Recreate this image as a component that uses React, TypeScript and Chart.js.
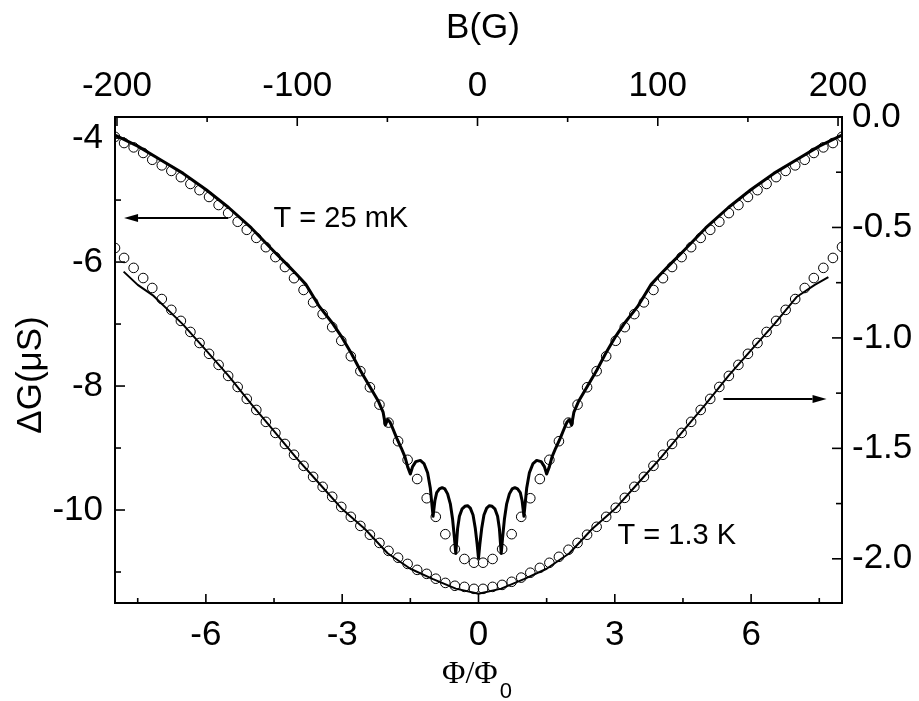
import React, { useEffect, useRef } from "react";
import { Chart, registerables } from "chart.js";

Chart.register(...registerables);

// Flux values (Φ/Φ0) of the open-circle data points
const phiCircles = [
  -8.0, -7.8, -7.59, -7.38, -7.18, -6.97, -6.76, -6.55, -6.34, -6.14, -5.93, -5.72, -5.51, -5.3, -5.1,
  -4.89, -4.68, -4.47, -4.26, -4.06, -3.85, -3.64, -3.43, -3.22, -3.02, -2.81, -2.6, -2.39, -2.18, -1.98,
  -1.77, -1.56, -1.35, -1.14, -0.94, -0.73, -0.52, -0.31, -0.1,
  0.1, 0.31, 0.52, 0.73, 0.94, 1.14, 1.35, 1.56, 1.77, 1.98, 2.18, 2.39, 2.6, 2.81, 3.02, 3.22, 3.43,
  3.64, 3.85, 4.06, 4.26, 4.47, 4.68, 4.89, 5.1, 5.3, 5.51, 5.72, 5.93, 6.14, 6.34, 6.55, 6.76, 6.97,
  7.18, 7.38, 7.59, 7.8, 8.0,
];

// T = 25 mK circles (left axis, ΔG in μS)
const upperCircleG = [
  -3.98, -4.08, -4.15, -4.24, -4.35, -4.44, -4.53, -4.63, -4.74, -4.84, -4.95, -5.08, -5.21, -5.35, -5.48,
  -5.61, -5.76, -5.92, -6.08, -6.26, -6.45, -6.65, -6.84, -7.05, -7.27, -7.52, -7.76, -8.02, -8.3, -8.59,
  -8.89, -9.19, -9.5, -9.81, -10.11, -10.39, -10.63, -10.79, -10.85,
  -10.85, -10.79, -10.63, -10.39, -10.11, -9.81, -9.5, -9.19, -8.89, -8.59, -8.3, -8.02, -7.76, -7.52,
  -7.27, -7.05, -6.84, -6.65, -6.45, -6.26, -6.08, -5.92, -5.76, -5.61, -5.48, -5.35, -5.21, -5.08,
  -4.95, -4.84, -4.74, -4.63, -4.53, -4.44, -4.35, -4.24, -4.15, -4.08, -3.98,
];

// T = 1.3 K circles (right axis)
const lowerCircleG = [
  -0.593, -0.638, -0.683, -0.729, -0.774, -0.824, -0.873, -0.923, -0.973, -1.023, -1.072, -1.122, -1.172,
  -1.222, -1.276, -1.326, -1.38, -1.43, -1.48, -1.529, -1.579, -1.629, -1.674, -1.719, -1.765, -1.81,
  -1.851, -1.891, -1.928, -1.964, -1.995, -2.023, -2.05, -2.068, -2.09, -2.109, -2.122, -2.127, -2.136,
  -2.136, -2.127, -2.118, -2.104, -2.085, -2.063, -2.041, -2.018, -1.991, -1.959, -1.928, -1.891, -1.855,
  -1.81, -1.769, -1.724, -1.674, -1.629, -1.579, -1.529, -1.48, -1.43, -1.38, -1.326, -1.276, -1.222,
  -1.172, -1.122, -1.072, -1.023, -0.973, -0.923, -0.873, -0.824, -0.774, -0.729, -0.683, -0.638, -0.588,
];

// T = 25 mK solid curve (left axis)
const upperLinePhi = [
  -8.0, -7.5, -7.0, -6.5, -6.0, -5.5, -5.0, -4.5, -4.2, -4.0, -3.8, -3.5, -3.2, -3.0, -2.8, -2.6, -2.4,
  -2.2, -2.1, -2.05, -2.0, -1.95, -1.9, -1.8, -1.7, -1.62, -1.56, -1.5, -1.45, -1.38, -1.28, -1.2, -1.12,
  -1.06, -1.0, -0.96, -0.92, -0.86, -0.8, -0.74, -0.68, -0.62, -0.57, -0.53, -0.5, -0.46, -0.42, -0.36,
  -0.3, -0.24, -0.18, -0.12, -0.07, -0.03, 0.0,
  0.03, 0.07, 0.12, 0.18, 0.24, 0.3, 0.36, 0.42, 0.46, 0.5, 0.53, 0.57, 0.62, 0.68, 0.74, 0.8, 0.86,
  0.92, 0.96, 1.0, 1.06, 1.12, 1.2, 1.28, 1.38, 1.45, 1.5, 1.56, 1.62, 1.7, 1.8, 1.9, 1.95, 2.0, 2.05,
  2.1, 2.2, 2.4, 2.6, 2.8, 3.0, 3.2, 3.5, 3.8, 4.0, 4.2, 4.5, 5.0, 5.5, 6.0, 6.5, 7.0, 7.5, 8.0,
];
const upperLineG = [
  -3.95, -4.13, -4.35, -4.57, -4.83, -5.12, -5.45, -5.83, -6.05, -6.2, -6.36, -6.72, -7.0, -7.22, -7.47,
  -7.75, -8.0, -8.25, -8.42, -8.63, -8.54, -8.58, -8.66, -8.84, -9.0, -9.14, -9.3, -9.42, -9.3, -9.22,
  -9.2, -9.25, -9.4, -9.65, -10.1, -9.85, -9.72, -9.66, -9.64, -9.66, -9.74, -9.9, -10.15, -10.45, -10.7,
  -10.3, -10.1, -9.98, -9.94, -9.93, -9.97, -10.08, -10.3, -10.55, -10.78,
  -10.55, -10.3, -10.08, -9.97, -9.93, -9.94, -9.98, -10.1, -10.3, -10.7, -10.45, -10.15, -9.9, -9.74,
  -9.66, -9.64, -9.66, -9.72, -9.85, -10.1, -9.65, -9.4, -9.25, -9.2, -9.22, -9.3, -9.42, -9.3, -9.14,
  -9.0, -8.84, -8.66, -8.58, -8.54, -8.63, -8.42, -8.25, -8.0, -7.75, -7.47, -7.22, -7.0, -6.72, -6.36,
  -6.2, -6.05, -5.83, -5.45, -5.12, -4.83, -4.57, -4.35, -4.13, -3.95,
];

// T = 1.3 K solid curve (right axis)
const lowerLinePhi = [
  -7.81, -7.5, -7.15, -6.8, -6.5, -6.0, -5.5, -5.0, -4.5, -4.0, -3.5, -3.0, -2.5, -2.0, -1.5, -1.0, -0.5,
  0.0, 0.5, 1.0, 1.5, 2.0, 2.5, 3.0, 3.5, 4.0, 4.5, 5.0, 5.5, 6.0, 6.5, 7.0, 7.4, 7.7,
];
const lowerLineG = [
  -0.7, -0.76, -0.81, -0.88, -0.94, -1.055, -1.172, -1.3, -1.422, -1.545, -1.66, -1.775, -1.865, -1.975,
  -2.045, -2.092, -2.135, -2.158, -2.135, -2.092, -2.045, -1.975, -1.865, -1.775, -1.66, -1.545, -1.422,
  -1.3, -1.172, -1.055, -0.94, -0.815, -0.76, -0.725,
];

// axis ticks
const phiTicks = [-6, -3, 0, 3, 6];
const phiMinor = [-7.5, -4.5, -1.5, 1.5, 4.5, 7.5];
const bTicks = [-200, -100, 0, 100, 200];
const bMinor = [-150, -50, 50, 150];
const gLeftTicks = [-10, -8, -6, -4];
const gLeftMinor = [-11, -9, -7, -5];
const gRightTicks = [0, -0.5, -1, -1.5, -2];
const gRightMinor = [-0.25, -0.75, -1.25, -1.75];

const SANS = '"Liberation Sans", Arial, Helvetica, sans-serif';
const SERIF = '"Liberation Serif", "Times New Roman", serif';
const TICK_FONT = { family: SANS, size: 35 };

const zip = (xs: number[], ys: number[]) => xs.map((x, i) => ({ x, y: ys[i] }));

const decorations = {
  id: "decorations",
  afterDraw(chart: any) {
    const ctx: CanvasRenderingContext2D = chart.ctx;
    const { x, x2, y, y2 } = chart.scales;
    const a = chart.chartArea;
    ctx.save();
    ctx.strokeStyle = "#000";
    ctx.fillStyle = "#000";
    ctx.lineWidth = 1.6;
    const line = (x1: number, y1: number, xb: number, yb: number) => {
      ctx.beginPath();
      ctx.moveTo(x1, y1);
      ctx.lineTo(xb, yb);
      ctx.stroke();
    };
    phiTicks.forEach((v) => line(x.getPixelForValue(v), a.bottom, x.getPixelForValue(v), a.bottom - 9));
    phiMinor.forEach((v) => line(x.getPixelForValue(v), a.bottom, x.getPixelForValue(v), a.bottom - 5));
    bTicks.forEach((v) => line(x2.getPixelForValue(v), a.top, x2.getPixelForValue(v), a.top + 9));
    bMinor.forEach((v) => line(x2.getPixelForValue(v), a.top, x2.getPixelForValue(v), a.top + 5));
    gLeftTicks.forEach((v) => line(a.left, y.getPixelForValue(v), a.left + 10, y.getPixelForValue(v)));
    gLeftMinor.forEach((v) => line(a.left, y.getPixelForValue(v), a.left + 6, y.getPixelForValue(v)));
    gRightTicks.forEach((v) => line(a.right, y2.getPixelForValue(v), a.right - 10, y2.getPixelForValue(v)));
    gRightMinor.forEach((v) => line(a.right, y2.getPixelForValue(v), a.right - 6, y2.getPixelForValue(v)));

    // arrows
    const arrow = (xa: number, ya: number, xt: number, yt: number) => {
      const dir = Math.sign(xt - xa);
      const head = 14;
      ctx.lineWidth = 2;
      line(xa, ya, xt - dir * head, yt);
      ctx.beginPath();
      ctx.moveTo(xt, yt);
      ctx.lineTo(xt - dir * head, yt - 4);
      ctx.lineTo(xt - dir * head, yt + 4);
      ctx.closePath();
      ctx.fill();
    };
    arrow(x.getPixelForValue(-5.51), y.getPixelForValue(-5.29), x.getPixelForValue(-7.8), y.getPixelForValue(-5.29));
    arrow(x.getPixelForValue(5.39), y2.getPixelForValue(-1.276), x.getPixelForValue(7.66), y2.getPixelForValue(-1.276));

    // annotation texts
    ctx.font = `29px ${SANS}`;
    ctx.textAlign = "left";
    ctx.textBaseline = "middle";
    ctx.fillText("T = 25 mK", x.getPixelForValue(-4.51), y.getPixelForValue(-5.31));
    ctx.fillText("T = 1.3 K", x.getPixelForValue(3.06), y2.getPixelForValue(-1.896));

    // axis titles
    ctx.font = `35px ${SANS}`;
    ctx.textAlign = "center";
    ctx.fillText("B(G)", 483, 28);
    ctx.save();
    ctx.translate(31, 375);
    ctx.rotate(-Math.PI / 2);
    ctx.fillText("ΔG(μS)", 0, 0);
    ctx.restore();

    ctx.textAlign = "left";
    ctx.textBaseline = "alphabetic";
    ctx.font = `32px ${SERIF}`;
    const main = "Φ/Φ";
    const w = ctx.measureText(main).width;
    const x0 = 442;
    ctx.fillText(main, x0, 683);
    ctx.font = `22px ${SANS}`;
    ctx.fillText("0", x0 + w + 2, 698);
    ctx.restore();
  },
};

const axisCommon = {
  type: "linear" as const,
  grid: { display: true, drawOnChartArea: false, drawTicks: false },
  border: { display: true, color: "#000", width: 2 },
};

export default function App() {
  const ref = useRef<HTMLCanvasElement | null>(null);
  useEffect(() => {
    if (!ref.current) return;
    const chart = new Chart(ref.current, {
      type: "scatter",
      data: {
        datasets: [
          {
            data: zip(upperLinePhi, upperLineG),
            xAxisID: "x",
            yAxisID: "y",
            showLine: true,
            borderColor: "#000",
            borderWidth: 3,
            pointRadius: 0,
            tension: 0,
            borderJoinStyle: "round",
          },
          {
            data: zip(lowerLinePhi, lowerLineG),
            xAxisID: "x",
            yAxisID: "y2",
            showLine: true,
            borderColor: "#000",
            borderWidth: 2,
            pointRadius: 0,
            tension: 0,
            borderJoinStyle: "round",
          },
          {
            data: zip(phiCircles, upperCircleG),
            xAxisID: "x",
            yAxisID: "y",
            showLine: false,
            pointRadius: 4.8,
            pointBorderWidth: 1,
            pointBorderColor: "#000",
            pointBackgroundColor: "rgba(255,255,255,0)",
          },
          {
            data: zip(phiCircles, lowerCircleG),
            xAxisID: "x",
            yAxisID: "y2",
            showLine: false,
            pointRadius: 4.8,
            pointBorderWidth: 1,
            pointBorderColor: "#000",
            pointBackgroundColor: "rgba(255,255,255,0)",
          },
        ] as any,
      },
      options: {
        responsive: false,
        animation: false,
        devicePixelRatio: 1,
        events: [],
        layout: { padding: 0 },
        plugins: { legend: { display: false }, tooltip: { enabled: false } },
        scales: {
          x: {
            ...axisCommon,
            position: "bottom",
            min: -8,
            max: 8,
            afterFit: (s: any) => { s.height = 98; },
            afterBuildTicks: (s: any) => { s.ticks = phiTicks.map((v) => ({ value: v })); },
            ticks: { font: TICK_FONT, color: "#000", padding: 11, autoSkip: false, maxRotation: 0, callback: (v: any) => String(v) },
          },
          x2: {
            ...axisCommon,
            position: "top",
            min: -201.1,
            max: 202.2,
            afterFit: (s: any) => { s.height = 117; },
            afterBuildTicks: (s: any) => { s.ticks = bTicks.map((v) => ({ value: v })); },
            ticks: { font: TICK_FONT, color: "#000", padding: 10, autoSkip: false, maxRotation: 0, callback: (v: any) => String(v) },
          },
          y: {
            ...axisCommon,
            position: "left",
            min: -11.5,
            max: -3.66,
            afterFit: (s: any) => { s.width = 115; },
            afterBuildTicks: (s: any) => { s.ticks = gLeftTicks.map((v) => ({ value: v })); },
            ticks: { font: TICK_FONT, color: "#000", padding: 12, autoSkip: false, callback: (v: any) => String(v) },
          },
          y2: {
            ...axisCommon,
            position: "right",
            min: -2.2,
            max: 0,
            afterFit: (s: any) => { s.width = 77; },
            afterBuildTicks: (s: any) => { s.ticks = gRightTicks.map((v) => ({ value: v })); },
            ticks: { font: TICK_FONT, color: "#000", padding: 10, autoSkip: false, callback: (v: any) => Number(v).toFixed(1) },
          },
        } as any,
      },
      plugins: [decorations],
    });
    return () => chart.destroy();
  }, []);
  return (
    <div style={{ position: "absolute", left: 0, top: 0, width: 919, height: 701, background: "#fff" }}>
      <canvas ref={ref} width={919} height={701} style={{ display: "block" }} />
    </div>
  );
}
